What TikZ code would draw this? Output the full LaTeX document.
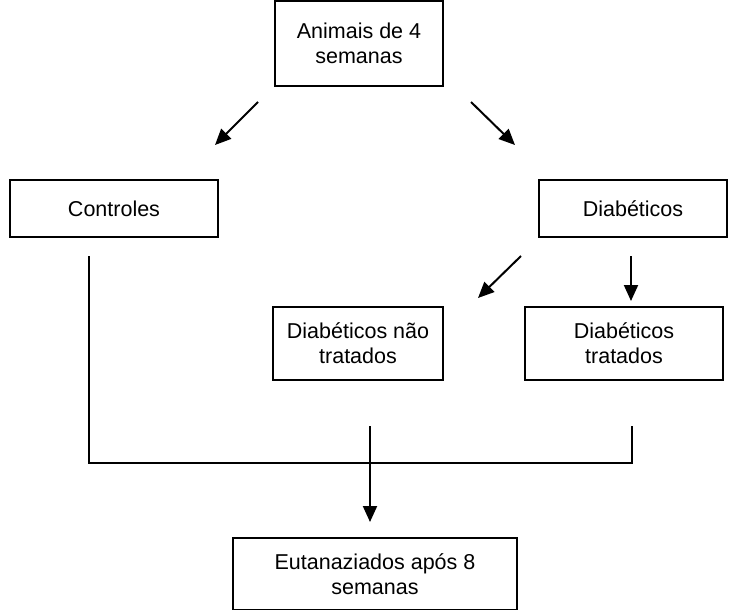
\documentclass[tikz,border=0pt]{standalone}
\usepackage{fontspec}
\setmainfont{Liberation Sans}
\usetikzlibrary{arrows.meta}
\begin{document}
\begin{tikzpicture}[x=1pt,y=-1pt,
  box/.style={draw,line width=1.6pt,align=center,inner sep=0pt,font=\fontsize{21.5}{25}\selectfont},
  arr/.style={line width=2pt,-{Triangle[length=16pt,width=14pt]}},
  ln/.style={line width=2pt}]
\useasboundingbox (0,0) rectangle (736,610);
\node[box,minimum width=168pt,minimum height=85pt] (top) at (359,43.5) {Animais de 4\\semanas};
\node[box,minimum width=208pt,minimum height=57pt] (ctl) at (114,208.5) {Controles};
\node[box,minimum width=188pt,minimum height=57pt] (dia) at (633,208.5) {Diabéticos};
\node[box,minimum width=170pt,minimum height=73pt] (dnt) at (358,343.5) {Diabéticos não\\tratados};
\node[box,minimum width=198pt,minimum height=73pt] (dt) at (624,343.5) {Diabéticos\\tratados};
\node[box,minimum width=284pt,minimum height=72pt] (eut) at (375,574) {Eutanaziados após 8\\semanas};
\coordinate (a1s) at (258,102); \coordinate (a1e) at (215,145);
\coordinate (a2s) at (471,102); \coordinate (a2e) at (515,145);
\coordinate (a3s) at (521,256); \coordinate (a3e) at (478,298);
\coordinate (a4s) at (631,256); \coordinate (a4e) at (631,301);
\coordinate (c1) at (89,256); \coordinate (c2) at (89,463);
\coordinate (c3) at (632,463); \coordinate (c4) at (632,426);
\coordinate (m1) at (370,426); \coordinate (m2) at (370,522);
\draw[arr] (a1s) -- (a1e);
\draw[arr] (a2s) -- (a2e);
\draw[arr] (a3s) -- (a3e);
\draw[arr] (a4s) -- (a4e);
\draw[ln] (c1) -- (c2) -- (c3) -- (c4);
\draw[arr] (m1) -- (m2);
\end{tikzpicture}
\end{document}
